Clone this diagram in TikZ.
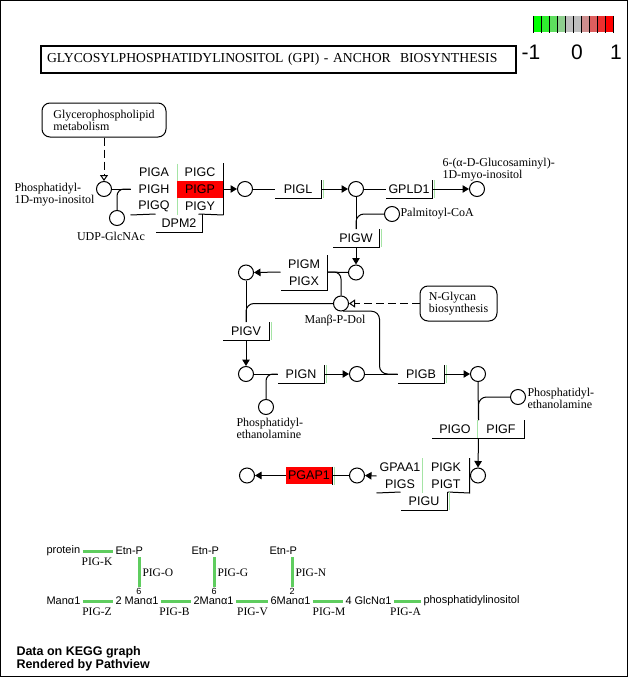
\documentclass[tikz,border=0pt]{standalone}
\usepackage{fontspec}
\setmainfont{Liberation Serif}
\newfontfamily\arialf{Liberation Sans}
\usetikzlibrary{arrows.meta, positioning, calc}

\definecolor{boxgreen}{RGB}{165,228,165}
\definecolor{keggreen}{RGB}{95,205,95}
\definecolor{hitred}{RGB}{255,0,0}

% right and bottom edge of a single gene box
\newcommand{\geneedge}[1]{%
  \draw[boxgreen] ([xshift=1.5pt]#1.north east) -- ([xshift=1.5pt]#1.south east);
  \draw (#1.north east) -- (#1.south east) -- (#1.south west);}

\begin{document}
\begin{tikzpicture}[x=1pt, y=-1pt, line width=1pt,
    cpd/.style={circle, draw, fill=white, minimum size=15pt, inner sep=0pt},
    gcell/.style={minimum width=46pt, minimum height=17pt, inner sep=0pt,
      font=\arialf\fontsize{12.5}{14}\selectfont},
    clabel/.style={inner sep=0pt, align=left, font=\fontsize{12}{10.5}\selectfont},
    mapbox/.style={draw, rounded corners=8pt, inner sep=0pt, align=left,
      font=\fontsize{12}{10.5}\selectfont},
    arr/.style={-{Triangle[length=6.5pt,width=7.5pt]}},
    maparr/.style={dash pattern=on 8pt off 4pt, -{Triangle[open,length=6pt,width=8pt]}},
    legtxt/.style={inner sep=0pt, anchor=west, font=\arialf\fontsize{11}{13}\selectfont},
    legpig/.style={inner sep=0pt, font=\fontsize{11.5}{13}\selectfont},
    legnum/.style={inner sep=0pt, font=\arialf\fontsize{9}{10}\selectfont},
    leglink/.style={keggreen, line width=3pt, shorten <=2pt, shorten >=2pt}]

  \useasboundingbox (0,0) rectangle (628,677);
  \draw (0.5,0.5) rectangle (627.5,676.5);

  % title and colour key
  \node[draw, line width=2pt, text width=463pt, inner xsep=6pt, inner ysep=0pt,
    minimum height=27pt, align=left, font=\fontsize{13.7}{15}\selectfont]
    (title) at (278.5,59.5) {GLYCOSYLPHOSPHATIDYLINOSITOL (GPI) - ANCHOR\ \ BIOSYNTHESIS};
  \foreach \c [count=\i from 0] in {00FF00,2FEF2F,5EDE5E,8ECE8E,BEBEBE,BEBEBE,CE8E8E,DE5E5E,EF2F2F,FF0000} {
    \definecolor{keycol}{HTML}{\c}
    \fill[keycol] (533+8*\i,16) rectangle ++(8,16);
  }
  \foreach \i in {0,...,10}
    \draw (533+8*\i,16) -- ++(0,17);
  \node[font=\arialf\fontsize{21}{21}\selectfont, inner sep=0pt] (kmin) at (531,52) {-1};
  \node[font=\arialf\fontsize{21}{21}\selectfont, inner sep=0pt] (kmid) at (577,52) {0};
  \node[font=\arialf\fontsize{21}{21}\selectfont, inner sep=0pt] (kmax) at (616,52) {1};

  % map links
  \node[mapbox, minimum width=124pt, minimum height=34pt] (glymap) at (104,120) {Glycerophospholipid\\metabolism};
  \node[mapbox, minimum width=77pt, minimum height=35pt] (nglymap) at (458.5,303.5) {N-Glycan\\biosynthesis};

  % first gene group
  \draw[boxgreen] (177,163.5) -- (177,214.5);
  \node[gcell] (PIGA) at (154,172) {PIGA};
  \node[gcell] (PIGC) at (200,172) {PIGC};
  \node[gcell] (PIGH) at (154,189) {PIGH};
  \node[gcell, fill=hitred] (PIGP) at (200,189) {PIGP};
  \node[gcell] (PIGQ) at (154,206) {PIGQ};
  \node[gcell] (PIGY) at (200,206) {PIGY};
  \node[gcell] (DPM2) at (179,223) {DPM2};
  \draw (PIGC.north east) -- (PIGY.south east);
  \draw (PIGQ.south west) -- (DPM2.north west);
  \draw ([xshift=-4pt]DPM2.north east) -- (PIGY.south east);
  \draw (DPM2.north east) -- (DPM2.south east) -- (DPM2.south west);

  % single gene boxes
  \node[gcell] (PIGL) at (298,189) {PIGL};
  \node[gcell] (GPLD1) at (409,189) {GPLD1};
  \node[gcell] (PIGW) at (356,238) {PIGW};
  \node[gcell] (PIGV) at (246,331) {PIGV};
  \node[gcell] (PIGN) at (301,374) {PIGN};
  \node[gcell] (PIGB) at (421,374) {PIGB};
  \foreach \g in {PIGL,GPLD1,PIGW,PIGV,PIGN,PIGB} {
    \geneedge{\g}
  }

  % PIGM / PIGX
  \node[gcell] (PIGM) at (304,264) {PIGM};
  \node[gcell] (PIGX) at (304,281) {PIGX};
  \draw (PIGM.north east) -- (PIGX.south east) -- (PIGX.south west);

  % PIGO / PIGF
  \node[gcell] (PIGO) at (455,429) {PIGO};
  \node[gcell] (PIGF) at (501,429) {PIGF};
  \draw[boxgreen] (PIGF.north west) -- (PIGF.south west);
  \draw (PIGF.north east) -- (PIGF.south east) -- (PIGO.south west);

  % transamidase group
  \node[gcell] (GPAA1) at (400,467) {GPAA1};
  \node[gcell] (PIGK) at (446,467) {PIGK};
  \node[gcell] (PIGS) at (400,484) {PIGS};
  \node[gcell] (PIGT) at (446,484) {PIGT};
  \node[gcell] (PIGU) at (424,501) {PIGU};
  \draw[boxgreen] (PIGK.north west) -- (PIGT.south west);
  \draw (PIGK.north east) -- (PIGT.south east) -- (PIGU.north east);
  \draw (PIGS.south west) -- (PIGU.north west);
  \geneedge{PIGU}

  \node[gcell, fill=hitred] (PGAP1) at (309,475.5) {PGAP1};
  \draw[boxgreen] ([xshift=1.5pt]PGAP1.north east) -- ([xshift=1.5pt]PGAP1.south east);
  \draw (PGAP1.north east) -- (PGAP1.south east);

  % compounds
  \node[cpd] (cPI) at (104,189) {};
  \node[cpd] (cUDP) at (117,218) {};
  \node[cpd] (cGlcNPI) at (245,189) {};
  \node[cpd] (cGlcNPIb) at (356,189) {};
  \node[cpd] (cGlcNino) at (477,189) {};
  \node[cpd] (cPalm) at (392,214) {};
  \node[cpd] (cacyl) at (356,272.5) {};
  \node[cpd] (cMan1) at (246,272.5) {};
  \node[cpd] (cMan) at (341,303.5) {};
  \node[cpd] (cMan1EtnP) at (246,374) {};
  \node[cpd] (cMan2) at (357,374) {};
  \node[cpd] (cMan3) at (478,374) {};
  \node[cpd] (cPE1) at (266,407) {};
  \node[cpd] (cPE2) at (518,397) {};
  \node[cpd] (cH7) at (478,475.5) {};
  \node[cpd] (cprot) at (357,475.5) {};
  \node[cpd] (cprot2) at (247,475.5) {};

  % compound labels
  \node[clabel, anchor=east] (lPI) at (95,195) {Phosphatidyl-\\1D-myo-inositol};
  \node[clabel] (lUDP) at (111,236) {UDP-GlcNAc};
  \node[clabel, anchor=west] (lGlcNino) at (442,169.5) {6-(α-D-Glucosaminyl)-\\1D-myo-inositol};
  \node[clabel, anchor=west] (lPalm) at (400,214) {Palmitoyl-CoA};
  \node[clabel] (lMan) at (335,321) {Manβ-P-Dol};
  \node[clabel, anchor=west] (lPE1) at (236,428) {Phosphatidyl-\\ethanolamine};
  \node[clabel, anchor=west] (lPE2) at (527,398) {Phosphatidyl-\\ethanolamine};

  % reactions
  \draw[maparr] (glymap.south) -- (cPI.north);
  \draw (cPI.east) -- (PIGH.west);
  \draw[rounded corners=7pt] (cUDP.north) |- (PIGH.west);
  \draw[arr] (PIGP.east) -- (cGlcNPI.west);
  \draw (cGlcNPI.east) -- (PIGL.west);
  \draw[arr] (PIGL.east) -- (cGlcNPIb.west);
  \draw (cGlcNPIb.east) -- (GPLD1.west);
  \draw[arr] (GPLD1.east) -- (cGlcNino.west);
  \draw (cGlcNPIb.south) -- (PIGW.north);
  \draw[rounded corners=8pt] (cPalm.west) -| (PIGW.north);
  \draw[arr] (PIGW.south) -- (cacyl.north);
  \draw (cacyl.west) -- (PIGX.north east);
  \draw[rounded corners=7pt] (cMan.north) |- (PIGX.north east);
  \draw[arr] (PIGX.north west) -- (cMan1.east);
  \draw[maparr] (nglymap.west) -- (cMan.east);
  \draw (cMan1.south) -- (PIGV.north);
  \draw[rounded corners=8pt] (cMan.west) -| (PIGV.north);
  \draw[arr] (PIGV.south) -- (cMan1EtnP.north);
  \draw (cMan1EtnP.east) -- (PIGN.west);
  \draw[rounded corners=7pt] (cPE1.north) |- (PIGN.west);
  \draw[arr] (PIGN.east) -- (cMan2.west);
  \draw (cMan2.east) -- (PIGB.west);
  \draw[rounded corners=8pt] (cMan.-75) -| ([xshift=-18pt]PIGB.west) -- (PIGB.west);
  \draw[arr] (PIGB.east) -- (cMan3.west);
  \draw (cMan3.south) -- (PIGO.north east);
  \draw[rounded corners=8pt] (cPE2.west) -| (PIGO.north east);
  \draw[arr] (PIGO.south east) -- (cH7.north);
  \draw[arr] (GPAA1.south west) -- (cprot.east);
  \draw (cprot.west) -- (PGAP1.east);
  \draw[arr] (PGAP1.west) -- (cprot2.east);

  % structure legend
  \node[legtxt] (lprotein) at (46,551) {protein};
  \node[legtxt] (letnA) at (115,551) {Etn-P};
  \node[legtxt] (letnB) at (191,551) {Etn-P};
  \node[legtxt] (letnC) at (269,551) {Etn-P};
  \node[legtxt] (lmanA) at (46,601) {Manα1};
  \node[legtxt] (lmanB) at (115,601) {2 Manα1};
  \node[legtxt] (lmanC) at (193,601) {2Manα1};
  \node[legtxt] (lmanD) at (270,601) {6Manα1};
  \node[legtxt] (lglcn) at (345,601) {4 GlcNα1};
  \node[legtxt] (lpi) at (423,601) {phosphatidylinositol};
  \node[legnum] (lsixA) at (139,591) {6};
  \node[legnum] (lsixB) at (214,591) {6};
  \node[legnum] (ltwo) at (292,591) {2};
  \draw[leglink] (lprotein) -- (letnA);
  \draw[leglink] (lmanA) -- (lmanB);
  \draw[leglink] (lmanB) -- (lmanC);
  \draw[leglink] (lmanC) -- (lmanD);
  \draw[leglink] (lmanD) -- (lglcn);
  \draw[leglink] (lglcn) -- (lpi);
  \draw[leglink, shorten <=0pt] (lsixA.north) -- (lsixA.north |- letnA.south);
  \draw[leglink, shorten <=0pt] (lsixB.north) -- (lsixB.north |- letnB.south);
  \draw[leglink, shorten <=0pt] (ltwo.north) -- (ltwo.north |- letnC.south);
  \node[legpig] (pK) at (97,562) {PIG-K};
  \node[legpig, anchor=west] (pO) at (142,573) {PIG-O};
  \node[legpig, anchor=west] (pG) at (217,573) {PIG-G};
  \node[legpig, anchor=west] (pN) at (295,573) {PIG-N};
  \node[legpig] (pZ) at (97,612) {PIG-Z};
  \node[legpig] (pB) at (174.5,612) {PIG-B};
  \node[legpig] (pV) at (252.5,612) {PIG-V};
  \node[legpig] (pM) at (329,612) {PIG-M};
  \node[legpig] (pA) at (405.5,612) {PIG-A};

  \node[anchor=west, inner sep=0pt, align=left, font=\arialf\bfseries\fontsize{12.5}{13}\selectfont]
    (credit) at (16,658.5) {Data on KEGG graph\\Rendered by Pathview};
\end{tikzpicture}
\end{document}
